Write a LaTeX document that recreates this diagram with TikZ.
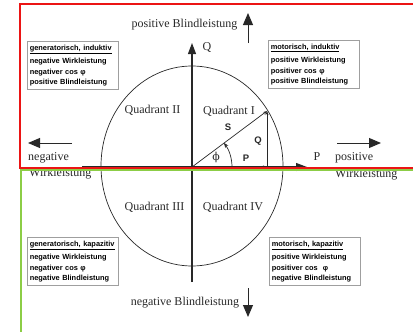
\documentclass[tikz,border=0pt]{standalone}
\usepackage{fontspec}
\setmainfont{Liberation Serif}
\setsansfont{Liberation Sans}
\newfontfamily\phifont{DejaVu Serif}
\usetikzlibrary{arrows.meta}
\definecolor{frameRed}{RGB}{235,20,20}
\definecolor{frameGreen}{RGB}{140,205,70}
\definecolor{ink}{RGB}{40,40,40}
\begin{document}
\begin{tikzpicture}[x=1pt,y=-1pt,
  serif/.style={font=\fontsize{12}{14}\selectfont, text=ink, inner sep=0pt},
  vecl/.style={font=\sffamily\bfseries\fontsize{9.5}{11}\selectfont, text=ink, inner sep=0pt},
  infobox/.style={draw=gray!75, line width=0.6pt, fill=white, text width=86pt,
    inner xsep=2.5pt, inner ysep=0pt, minimum height=48pt, align=left,
    anchor=north west, font=\sffamily\bfseries\fontsize{7.4}{10.2}\selectfont},
  axis/.style={draw=ink, line width=1.1pt, -{Triangle[length=11pt,width=8pt]}},
  bigarrow/.style={draw=ink, line width=1pt, -{Triangle[length=12pt,width=10pt]}},
  vec/.style={draw=ink, line width=0.7pt, -{Stealth[length=4pt,width=3pt]}},
  frame/.style={line width=2pt}]
\useasboundingbox (0,0) rectangle (413,332);

% key points
\coordinate (O) at (192,167);
\coordinate (Qtop) at (192,43);
\coordinate (Qbot) at (192,282);
\coordinate (Pleft) at (82,167);
\coordinate (Pright) at (307,167);
\coordinate (Stip) at (267,111);
\coordinate (Pfoot) at (267,167);

% circle of apparent power
\draw[ink, line width=0.7pt] (192,166) ellipse [x radius=91pt, y radius=100pt];

% axes
\draw[axis] (Qbot) -- (Qtop);
\draw[axis] (Pleft) -- (Pright);
\node[serif] (Qlab) at (207,47) {Q};
\node[serif] (Plab) at (317,157) {P};

% power triangle
\draw[vec] (O) -- (Pfoot);
\draw[vec] (Pfoot) -- (Stip);
\draw[vec] (O) -- (Stip);
\draw[ink, line width=0.7pt, -{Stealth[length=5pt,width=4pt]}]
  ([xshift=40pt]O) arc[start angle=0, end angle=37, radius=40pt];
\node[vecl] (Slab) at (228,127) {S};
\node[vecl] (Qv) at (258,141) {Q};
\node[vecl] (Pv) at (246,158) {P};
\node[serif, font=\phifont\fontsize{11}{13}\selectfont] (phi) at (216,157) {ϕ};

% quadrant names
\node[serif] (q1) at (229,111) {Quadrant I};
\node[serif] (q2) at (152.5,110) {Quadrant II};
\node[serif] (q3) at (154.5,207) {Quadrant III};
\node[serif] (q4) at (233,207) {Quadrant IV};

% direction labels and arrows
\node[serif] (posB) at (184.5,25) {positive Blindleistung};
\node[serif] (negB) at (185,303) {negative Blindleistung};
\coordinate (upA) at (248,43);
\coordinate (upB) at (248,13);
\coordinate (dnA) at (248,288);
\coordinate (dnB) at (248,317);
\draw[bigarrow] (upA) -- (upB);
\draw[bigarrow] (dnA) -- (dnB);

\node[serif, anchor=west] (negW1) at (28,158) {negative};
\node[serif, anchor=west] (negW2) at (29,174) {Wirkleistung};
\node[serif, anchor=west] (posW1) at (335,158) {positive};
\node[serif, anchor=west] (posW2) at (335,175) {Wirkleistung};
\coordinate (lA) at (72,143);
\coordinate (lB) at (28,143);
\coordinate (rA) at (337,143);
\coordinate (rB) at (381,143);
\draw[bigarrow] (lA) -- (lB);
\draw[bigarrow] (rA) -- (rB);

% operating-mode boxes
\node[infobox] (boxTL) at (27,41) {\underline{generatorisch, induktiv}\\[3.5pt]
  negative Wirkleistung\\ negativer cos φ\\ positive Blindleistung};
\node[infobox] (boxTR) at (268,40) {\underline{motorisch, induktiv}\\[3.5pt]
  positive Wirkleistung\\ positiver cos φ\\ positive Blindleistung};
\node[infobox] (boxBL) at (27,237) {\underline{generatorisch, kapazitiv}\\[3.5pt]
  negative Wirkleistung\\ negativer cos φ\\ negative Blindleistung};
\node[infobox] (boxBR) at (269,237) {\underline{motorisch, kapazitiv}\\[3.5pt]
  positive Wirkleistung\\ positiver cos\ \ φ\\ negative Blindleistung};

% highlighted half planes
\draw[frame, frameGreen] (413,169.5) -- (21,169.5) -- (21,332);
\draw[frame, frameRed] (413,4) -- (20,4) -- (20,167.5) -- (413,167.5);
\end{tikzpicture}
\end{document}
